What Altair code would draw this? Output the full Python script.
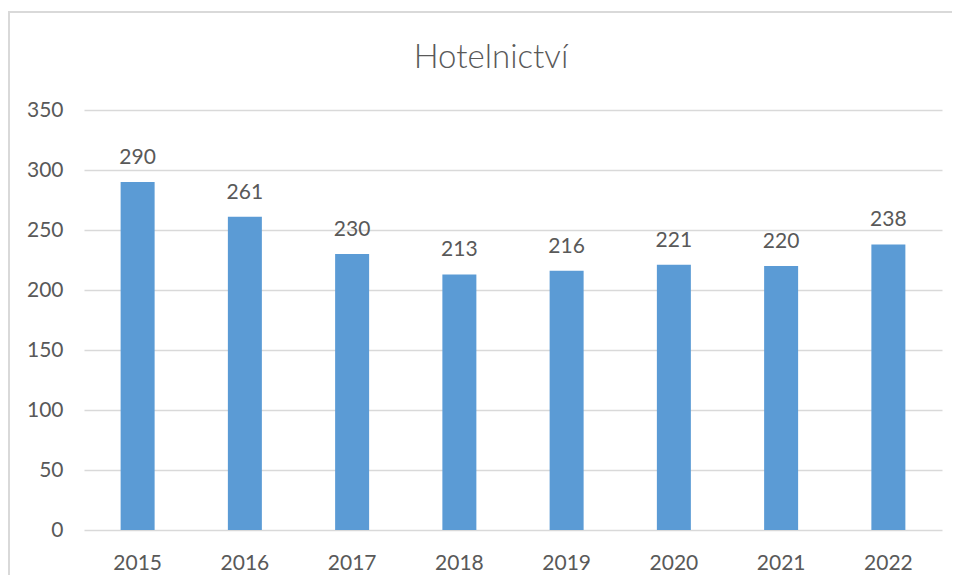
import altair as alt
import pandas as pd

years = ["2015", "2016", "2017", "2018", "2019", "2020", "2021", "2022"]
values = [290, 261, 230, 213, 216, 221, 220, 238]
title_text = "Hotelnictví"
y_ticks = [0, 50, 100, 150, 200, 250, 300, 350]

df = pd.DataFrame({"year": years, "value": values})

W, H = 858, 420
FONT = "Lato"
TXT = "#595959"
GRID = "#d9d9d9"

x = alt.X("year:N", sort=years, title=None,
          scale=alt.Scale(paddingInner=0.683, paddingOuter=0.3415),
          axis=alt.Axis(labelAngle=0, ticks=False, tickSize=0, domain=False,
                        labelPadding=39, labelBaseline="alphabetic",
                        labelFont=FONT, labelFontSize=21, labelColor=TXT, grid=False))
y = alt.Y("value:Q", title=None,
          scale=alt.Scale(domain=[0, 350], nice=False),
          axis=alt.Axis(values=y_ticks, ticks=False, tickSize=0, domain=False,
                        labelPadding=21, labelFont=FONT, labelFontSize=21,
                        labelColor=TXT, grid=True, gridColor=GRID, gridWidth=1.5))

base = alt.Chart(df)

frame = alt.Chart(pd.DataFrame({"t": [0]})).mark_rect(
    fill=None, stroke=GRID, strokeWidth=2
).encode(
    x=alt.value(-75), x2=alt.value(W + 100),
    y=alt.value(-98), y2=alt.value(H + 100),
)

bars = base.mark_bar(color="#5B9BD5").encode(x=x, y=y)
labels = base.mark_text(font=FONT, fontSize=21, color=TXT, baseline="alphabetic",
                        dy=-18).encode(x=x, y=y, text="value:Q")

title = alt.Chart(pd.DataFrame({"t": [title_text]})).mark_text(
    font=FONT, fontSize=33, fontWeight=300, color=TXT, baseline="alphabetic", align="center"
).encode(x=alt.value(407), y=alt.value(-42), text="t:N")

chart = alt.layer(frame, bars, labels, title).properties(
    width=W, height=H,
    background="white",
    autosize=alt.AutoSizeParams(type="none"),
    padding={"left": 76, "top": 102, "right": 10, "bottom": 45},
).configure_view(stroke=None)

chart.save("out.html", embed_options={"renderer": "svg", "actions": False})
